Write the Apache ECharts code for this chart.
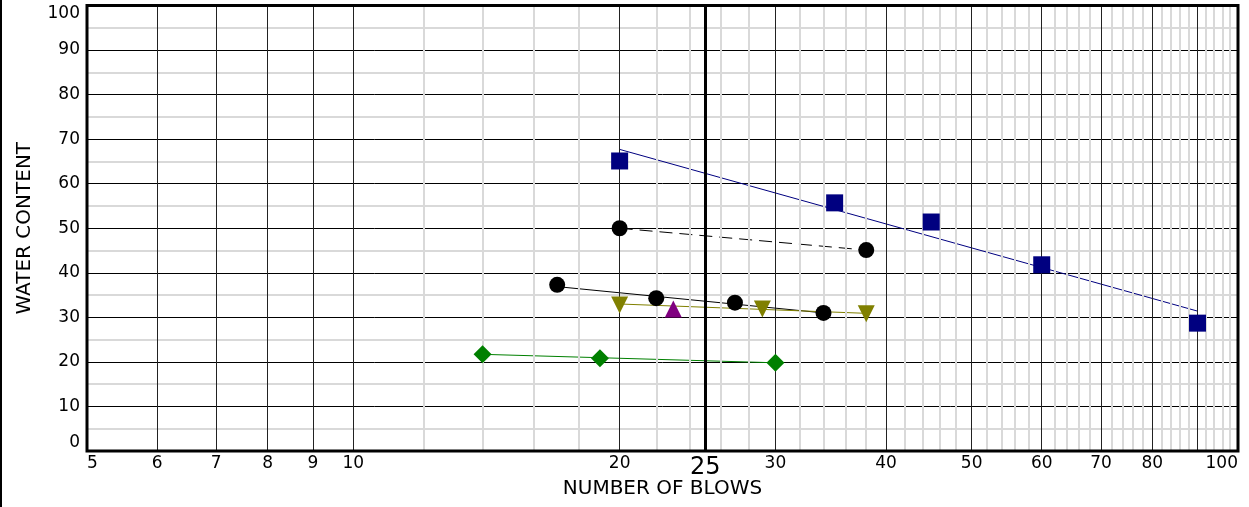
<!DOCTYPE html>
<html><head><meta charset="utf-8">
<script src="https://cdn.jsdelivr.net/npm/echarts@6/dist/echarts.min.js"></script>
<style>html,body{margin:0;padding:0;background:#fff}#c{width:1249px;height:507px}</style>
</head><body><div id="c"></div>
<script>
// ---- tick / grid values ----
const xLabelValues = [5, 6, 7, 8, 9, 10, 20, 25, 30, 40, 50, 60, 70, 80, 100];
const xMajorGrid = [6, 7, 8, 9, 10, 20, 30, 40, 50, 60, 70, 80, 90];
const xHighlightGrid = [25];
const xMinorGrid = [12, 14, 16, 18, 22, 24, 26, 28, 32, 34, 36, 38, 42, 44, 46, 48,
  52, 54, 56, 58, 62, 64, 66, 68, 72, 74, 76, 78, 82, 84, 86, 88, 92, 94, 96, 98];

// ---- data (number of blows, water content) ----
const squareBlows = [20, 35, 45, 60, 90];
const squareWater = [65.1, 55.7, 51.4, 41.8, 28.7];
const squareFitBlows = [20, 90];
const squareFitWater = [67.7, 31.4];

const circleABlows = [20, 38];
const circleAWater = [50.0, 45.1];

const circleBBlows = [17, 22, 27, 34];
const circleBWater = [37.3, 34.3, 33.3, 31.0];
const circleBFitBlows = [17, 34];
const circleBFitWater = [36.9, 31.0];

const downTriBlows = [20, 29, 38];
const downTriWater = [32.8, 31.9, 30.8];
const downTriFitBlows = [20, 38];
const downTriFitWater = [33.0, 30.9];

const upTriBlows = [23];
const upTriWater = [31.9];

const diamondBlows = [14, 19, 30];
const diamondWater = [21.7, 20.8, 19.8];
const diamondFitBlows = [14, 30];
const diamondFitWater = [21.7, 19.8];

const FONT = 'DejaVu Sans';
const zip = (a, b) => a.map((v, i) => [v, b[i]]);

function gridLines(values, color, width, z) {
  return {
    type: 'line', data: [], z: z, silent: true,
    markLine: {
      silent: true, symbol: ['none', 'none'], animation: false,
      label: { show: false },
      lineStyle: { color: color, width: width, type: 'solid' },
      emphasis: { disabled: true },
      data: values.map(v => ({ xAxis: v }))
    }
  };
}

const labelSeries = {
  type: 'line', data: [], z: 4, silent: true,
  markLine: {
    silent: true, symbol: ['none', 'none'], animation: false,
    lineStyle: { color: 'rgba(0,0,0,0)', width: 1 },
    emphasis: { disabled: true },
    data: xLabelValues.map((v, i) => {
      const big = v === 25;
      let align = 'center';
      if (i === 0) align = 'left';
      if (i === xLabelValues.length - 1) align = 'right';
      return {
        xAxis: v,
        label: {
          show: true, position: 'start', formatter: String(v),
          distance: big ? 5 : 4, color: '#000', opacity: 1,
          fontFamily: FONT, fontSize: big ? 24 : 17, align: align
        }
      };
    })
  }
};

function scatter(xs, ys, symbol, color, size, rotate) {
  return {
    type: 'scatter', z: 5, data: zip(xs, ys), symbol: symbol, symbolSize: size,
    symbolRotate: rotate || 0,
    itemStyle: { color: color, opacity: 1 }
  };
}
function fit(xs, ys, color, type) {
  return {
    type: 'line', z: 4, data: zip(xs, ys), symbol: 'none',
    lineStyle: { color: color, width: 1, type: type || 'solid' }
  };
}

const chart = echarts.init(document.getElementById('c'), null, { renderer: 'canvas' });
chart.setOption({
  animation: false,
  backgroundColor: '#fff',
  grid: { left: 87, right: 11, top: 5.5, bottom: 56, show: true, borderColor: '#000', borderWidth: 3, z: 6, backgroundColor: 'transparent' },
  xAxis: {
    type: 'log', logBase: 10, min: 5, max: 100,
    name: 'NUMBER OF BLOWS', nameLocation: 'middle', nameGap: 28,
    nameTextStyle: { fontFamily: FONT, fontSize: 20, color: '#000' },
    axisLine: { show: false }, axisTick: { show: false },
    axisLabel: { show: false }, splitLine: { show: false }, minorSplitLine: { show: false }
  },
  yAxis: {
    type: 'value', min: 0, max: 100, interval: 10, z: 1,
    name: 'WATER CONTENT', nameLocation: 'middle', nameGap: 52,
    nameTextStyle: { fontFamily: FONT, fontSize: 20, color: '#000' },
    axisLine: { show: false }, axisTick: { show: false },
    axisLabel: { fontFamily: FONT, fontSize: 17, color: '#000', margin: 7,
      verticalAlignMaxLabel: 'top', verticalAlignMinLabel: 'bottom' },
    splitLine: { show: true, lineStyle: { color: '#000', width: 1 } },
    minorTick: { show: false, splitNumber: 2 },
    minorSplitLine: { show: true, lineStyle: { color: '#d9d9d9', width: 2 } }
  },
  series: [
    gridLines(xMinorGrid, '#d9d9d9', 2, 0),
    gridLines(xMajorGrid, '#222', 1, 2),
    gridLines(xHighlightGrid, '#000', 3, 2),
    labelSeries,
    fit(squareFitBlows, squareFitWater, '#000080'),
    fit(circleABlows, circleAWater, '#000', [13, 7]),
    fit(circleBFitBlows, circleBFitWater, '#000'),
    fit(downTriFitBlows, downTriFitWater, '#808000'),
    fit(diamondFitBlows, diamondFitWater, '#008000'),
    scatter(squareBlows, squareWater, 'rect', '#000080', 17),
    scatter(circleABlows, circleAWater, 'circle', '#000', 16),
    scatter(circleBBlows, circleBWater, 'circle', '#000', 16),
    scatter(downTriBlows, downTriWater, 'triangle', '#808000', 17, 180),
    scatter(upTriBlows, upTriWater, 'triangle', '#800080', 17),
    scatter(diamondBlows, diamondWater, 'diamond', '#008000', 18)
  ],
  graphic: [
    { type: 'rect', left: 0, top: 0, shape: { width: 2, height: 507 }, style: { fill: '#000' } }
  ]
});
</script>
</body></html>
